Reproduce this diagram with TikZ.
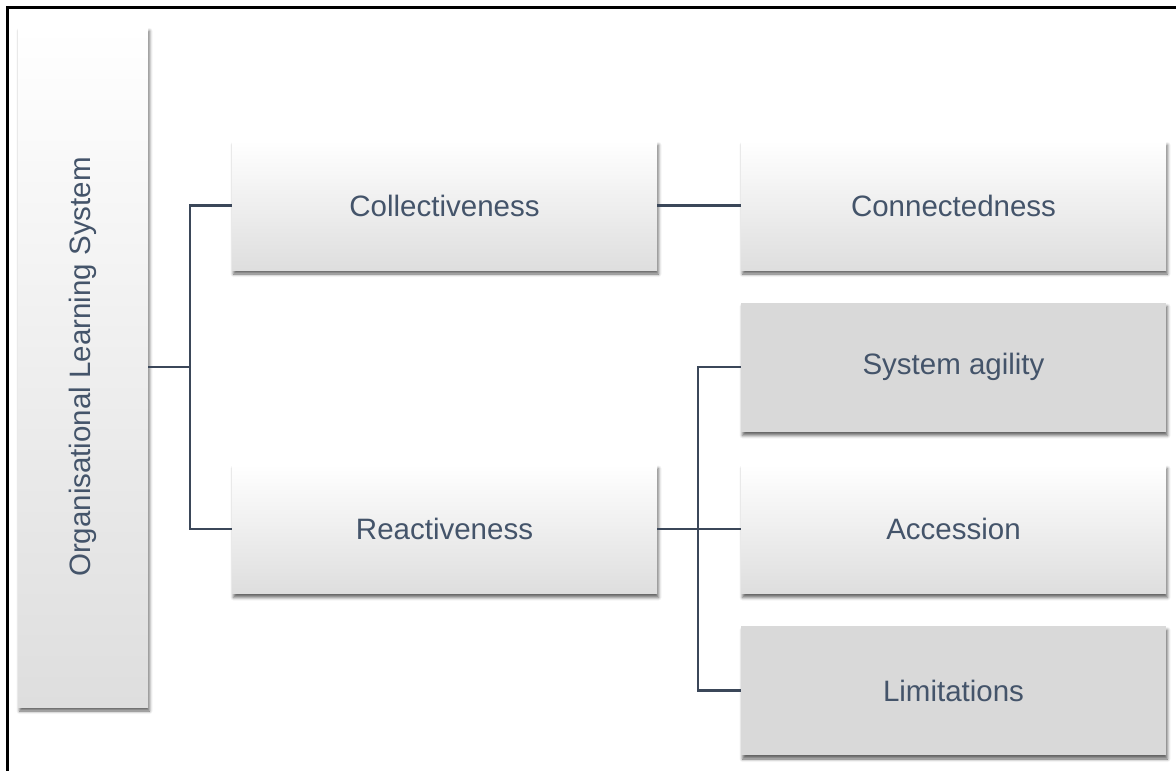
\documentclass[tikz,border=0pt]{standalone}
\usepackage{fontspec}
\setmainfont{Liberation Sans}
\usetikzlibrary{shadows.blur}
\definecolor{txt}{HTML}{44546A}
\definecolor{link}{HTML}{3B4759}
\definecolor{boxgray}{HTML}{D9D9D9}
\definecolor{boxfade}{HTML}{DEDEDE}
\tikzset{
  x=1pt, y=-1pt,
  softshadow/.style={blur shadow={shadow xshift=1.5pt, shadow yshift=-4pt,
      shadow blur radius=3pt, shadow opacity=60}},
  card/.style={rectangle, inner sep=0pt, minimum width=425pt, minimum height=129pt,
      text=txt, font=\fontsize{29.5}{34}\selectfont, softshadow},
  whitecard/.style={card, top color=white, middle color=white, bottom color=boxfade},
  graycard/.style={card, fill=boxgray},
  link/.style={draw=link, line width=2.3pt},
}
\begin{document}
\begin{tikzpicture}
  \useasboundingbox (0,0) rectangle (1176,771);
  % outer frame (left and top edges)
  \draw[line width=3pt, black] (7,790) -- (7,7) -- (1190,7);

  % root column
  \node[card, top color=white, middle color=white, bottom color=boxfade,
        minimum width=130pt, minimum height=680pt] (root) at (83,367) {};
  \node[text=txt, font=\fontsize{29.5}{34}\selectfont, rotate=90] (roottext) at (root.center)
        {Organisational Learning System};

  % second level
  \node[whitecard] (coll)  at (444.5,205.5) {Collectiveness};
  \node[whitecard] (react) at (444.5,529)   {Reactiveness};

  % third level
  \node[whitecard] (conn) at (953.5,205.5) {Connectedness};
  \node[graycard]  (agil) at (953.5,367)   {System agility};
  \node[whitecard] (acc)  at (953.5,529)   {Accession};
  \node[graycard]  (lim)  at (953.5,690.5) {Limitations};

  % junction points of the bracket connectors
  \coordinate (j1) at (190,367);
  \coordinate (j2) at (698,529);

  \draw[link] (root.east) -- (j1);
  \draw[link] (j1) |- (coll.west);
  \draw[link] (j1) |- (react.west);
  \draw[link] (coll.east) -- (conn.west);
  \draw[link] (react.east) -- (acc.west);
  \draw[link] (j2) |- (agil.west);
  \draw[link] (j2) |- (lim.west);
\end{tikzpicture}
\end{document}
